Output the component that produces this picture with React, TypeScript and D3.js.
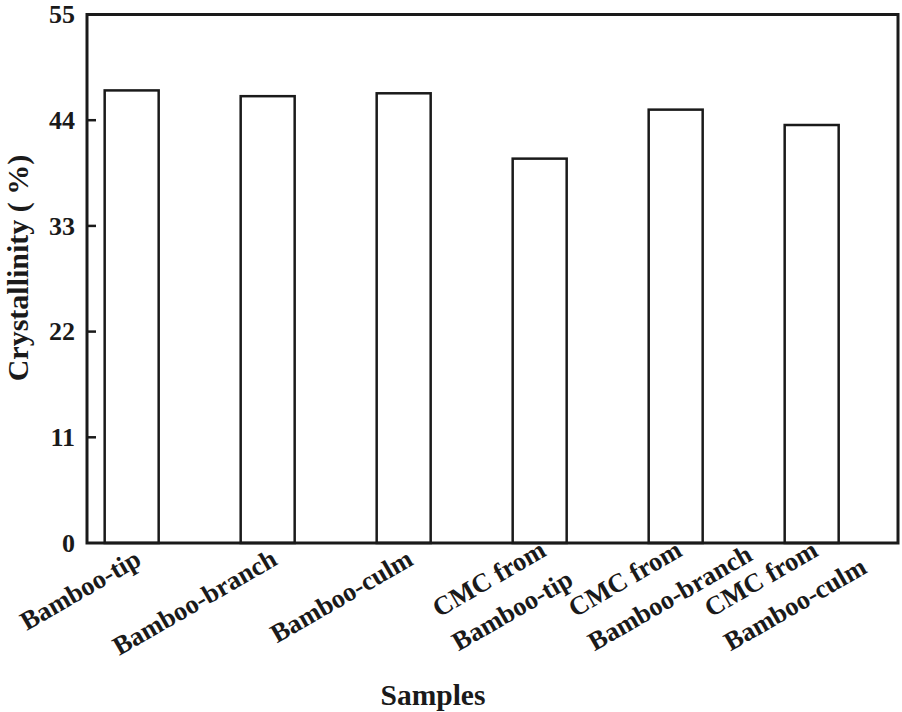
import React, { useEffect, useRef } from 'react';
import * as d3 from 'd3';

const samples = [
  'Bamboo-tip',
  'Bamboo-branch',
  'Bamboo-culm',
  'CMC from\nBamboo-tip',
  'CMC from\nBamboo-branch',
  'CMC from\nBamboo-culm',
];
const crystallinity = [47.1, 46.5, 46.8, 40.0, 45.1, 43.5];
const yTicks = [0, 11, 22, 33, 44, 55];

const App: React.FC = () => {
  const svgRef = useRef<SVGSVGElement>(null);

  useEffect(() => {
    if (!svgRef.current) return;
    const svg = d3.select(svgRef.current);
    svg.selectAll('*').remove();

    const width = 902;
    const height = 712;
    const left = 87;
    const right = 898;
    const top = 14.5;
    const bottom = 543;
    const ink = '#1a1a1a';
    const font = '"Liberation Serif", "Times New Roman", serif';

    svg.attr('width', width).attr('height', height);

    const y = d3.scaleLinear().domain([0, 55]).range([bottom, top]);
    const x = d3.scaleBand<string>()
      .domain(samples)
      .range([left, left + 136 * (6 - 0.603 + 0.26)])
      .paddingInner(0.603)
      .paddingOuter(0.13);

    // bars
    svg.append('g')
      .selectAll('rect')
      .data(samples)
      .join('rect')
      .attr('x', d => x(d)!)
      .attr('y', (d, i) => y(crystallinity[i]))
      .attr('width', x.bandwidth())
      .attr('height', (d, i) => bottom - y(crystallinity[i]))
      .attr('fill', 'none')
      .attr('stroke', ink)
      .attr('stroke-width', 2.5);

    // frame
    svg.append('rect')
      .attr('x', left)
      .attr('y', top)
      .attr('width', right - left)
      .attr('height', bottom - top)
      .attr('fill', 'none')
      .attr('stroke', ink)
      .attr('stroke-width', 3);

    // y ticks
    yTicks.forEach(t => {
      if (t !== 0 && t !== 55) {
        svg.append('line')
          .attr('x1', left)
          .attr('x2', left + 9)
          .attr('y1', y(t))
          .attr('y2', y(t))
          .attr('stroke', ink)
          .attr('stroke-width', 2.5);
      }
      svg.append('text')
        .attr('x', 75)
        .attr('y', y(t))
        .attr('dy', '0.34em')
        .attr('text-anchor', 'end')
        .attr('font-family', font)
        .attr('font-weight', 'bold')
        .attr('font-size', 26)
        .attr('fill', ink)
        .text(t);
    });

    // x category labels, rotated; lines left-aligned, first line ends at the anchor
    samples.forEach(s => {
      const cx = x(s)! + x.bandwidth() / 2;
      const lines = s.split('\n');
      const multi = lines.length > 1;
      const g = svg.append('g')
        .attr('transform', `translate(${cx + (multi ? 8 : 11)},${bottom + (multi ? 12 : 21)}) rotate(-30)`);
      const texts = lines.map((ln, k) =>
        g.append('text')
          .attr('y', k * 39)
          .attr('font-family', font)
          .attr('font-weight', 'bold')
          .attr('font-size', 26.5)
          .attr('fill', ink)
          .attr('text-anchor', 'start')
          .text(ln)
      );
      const w1 = (texts[0].node() as SVGTextElement).getComputedTextLength();
      texts.forEach(t => t.attr('x', -w1));
    });

    // axis titles
    svg.append('text')
      .attr('x', 433)
      .attr('y', 705)
      .attr('text-anchor', 'middle')
      .attr('font-family', font)
      .attr('font-weight', 'bold')
      .attr('font-size', 29.5)
      .attr('fill', ink)
      .text('Samples');

    svg.append('text')
      .attr('transform', `translate(28,268) rotate(-90)`)
      .attr('text-anchor', 'middle')
      .attr('font-family', font)
      .attr('font-weight', 'bold')
      .attr('font-size', 30)
      .attr('fill', ink)
      .text('Crystallinity ( %)');
  }, []);

  return (
    <div style={{ position: 'absolute', left: 0, top: 0 }}>
      <svg ref={svgRef} style={{ display: 'block' }}></svg>
    </div>
  );
};

export default App;
